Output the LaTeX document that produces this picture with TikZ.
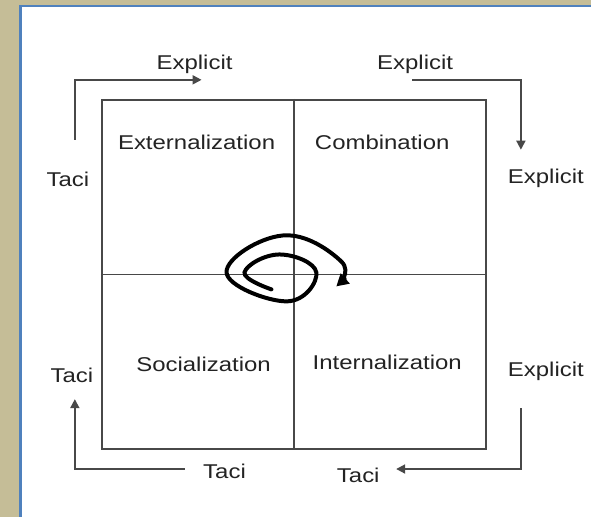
\documentclass[tikz,border=0pt]{standalone}
\usepackage{fontspec}
\setmainfont{Liberation Sans}[FakeStretch=1.2]
\usetikzlibrary{arrows.meta,positioning}
\definecolor{pagetan}{RGB}{197,189,151}
\definecolor{frameblue}{RGB}{79,129,189}
\definecolor{linegray}{RGB}{72,72,72}
\definecolor{textgray}{RGB}{35,35,35}
\tikzset{
  lbl/.style={font=\fontsize{20}{24}\selectfont, text=textgray, inner sep=0pt,
              text height=14pt, text depth=0pt},
  grid/.style={draw=linegray, line width=1.8pt, minimum width=385pt, minimum height=350pt, inner sep=0pt},
  flowarr/.style={-{Triangle[length=9pt,width=9pt]}, linegray, line width=1.8pt},
  spiralarr/.style={-{Triangle[length=12pt,width=13pt]}, black, line width=4pt, line cap=round},
}
\begin{document}
\begin{tikzpicture}[x=1pt, y=-1pt]
  % page and frame
  \fill[pagetan] (0,0) rectangle (592,518);
  \fill[white] (20,6) rectangle (592,518);
  \draw[frameblue, line width=2.5pt] (20.75,518) -- (20.75,6.25) -- (592,6.25);
  \useasboundingbox (0,0) rectangle (592,518);

  % the four quadrants
  \node[grid] (box) at (294.5,275) {};
  \draw[linegray, line width=1.8pt] (box.north) -- (box.south);
  \draw[linegray, line width=1.8pt] (box.west) -- (box.east);
  \node[lbl] (ext)  at (197,143) {Externalization};
  \node[lbl] (comb) at (383,143) {Combination};
  \node[lbl] (soc)  at (204,365) {Socialization};
  \node[lbl] (intl) at (388,363) {Internalization};

  % outer labels
  \node[lbl] (expTL) at (195,63)  {Explicit};
  \node[lbl] (expTR) at (416,63)  {Explicit};
  \node[lbl] (expR)  at (547,177) {Explicit};
  \node[lbl] (expBR) at (547,370) {Explicit};
  \node[lbl] (taciL)  at (68,180)  {Taci};
  \node[lbl] (taciBL) at (72,376)  {Taci};
  \node[lbl] (taciB1) at (225,473) {Taci};
  \node[lbl] (taciB2) at (359,477) {Taci};

  % arrow ends
  \coordinate (tlS) at (75,140);  \coordinate (tlE) at (202,80);
  \coordinate (trS) at (413,80);  \coordinate (trE) at (522,150);
  \coordinate (brS) at (522,409); \coordinate (brE) at (397,470);
  \coordinate (blS) at (185,470); \coordinate (blE) at (75,400);
  \draw[flowarr] (tlS) |- (tlE);
  \draw[flowarr] (trS) -| (trE);
  \draw[flowarr] (brS) |- (brE);
  \draw[flowarr] (blS) -| (blE);

  % spiral
  \draw[spiralarr] plot[smooth, tension=0.75] coordinates {
    (272,290) (245,273) (280,255) (317,273) (287,302)
    (227,273) (283,236) (342,262) (337,287)};
\end{tikzpicture}
\end{document}
